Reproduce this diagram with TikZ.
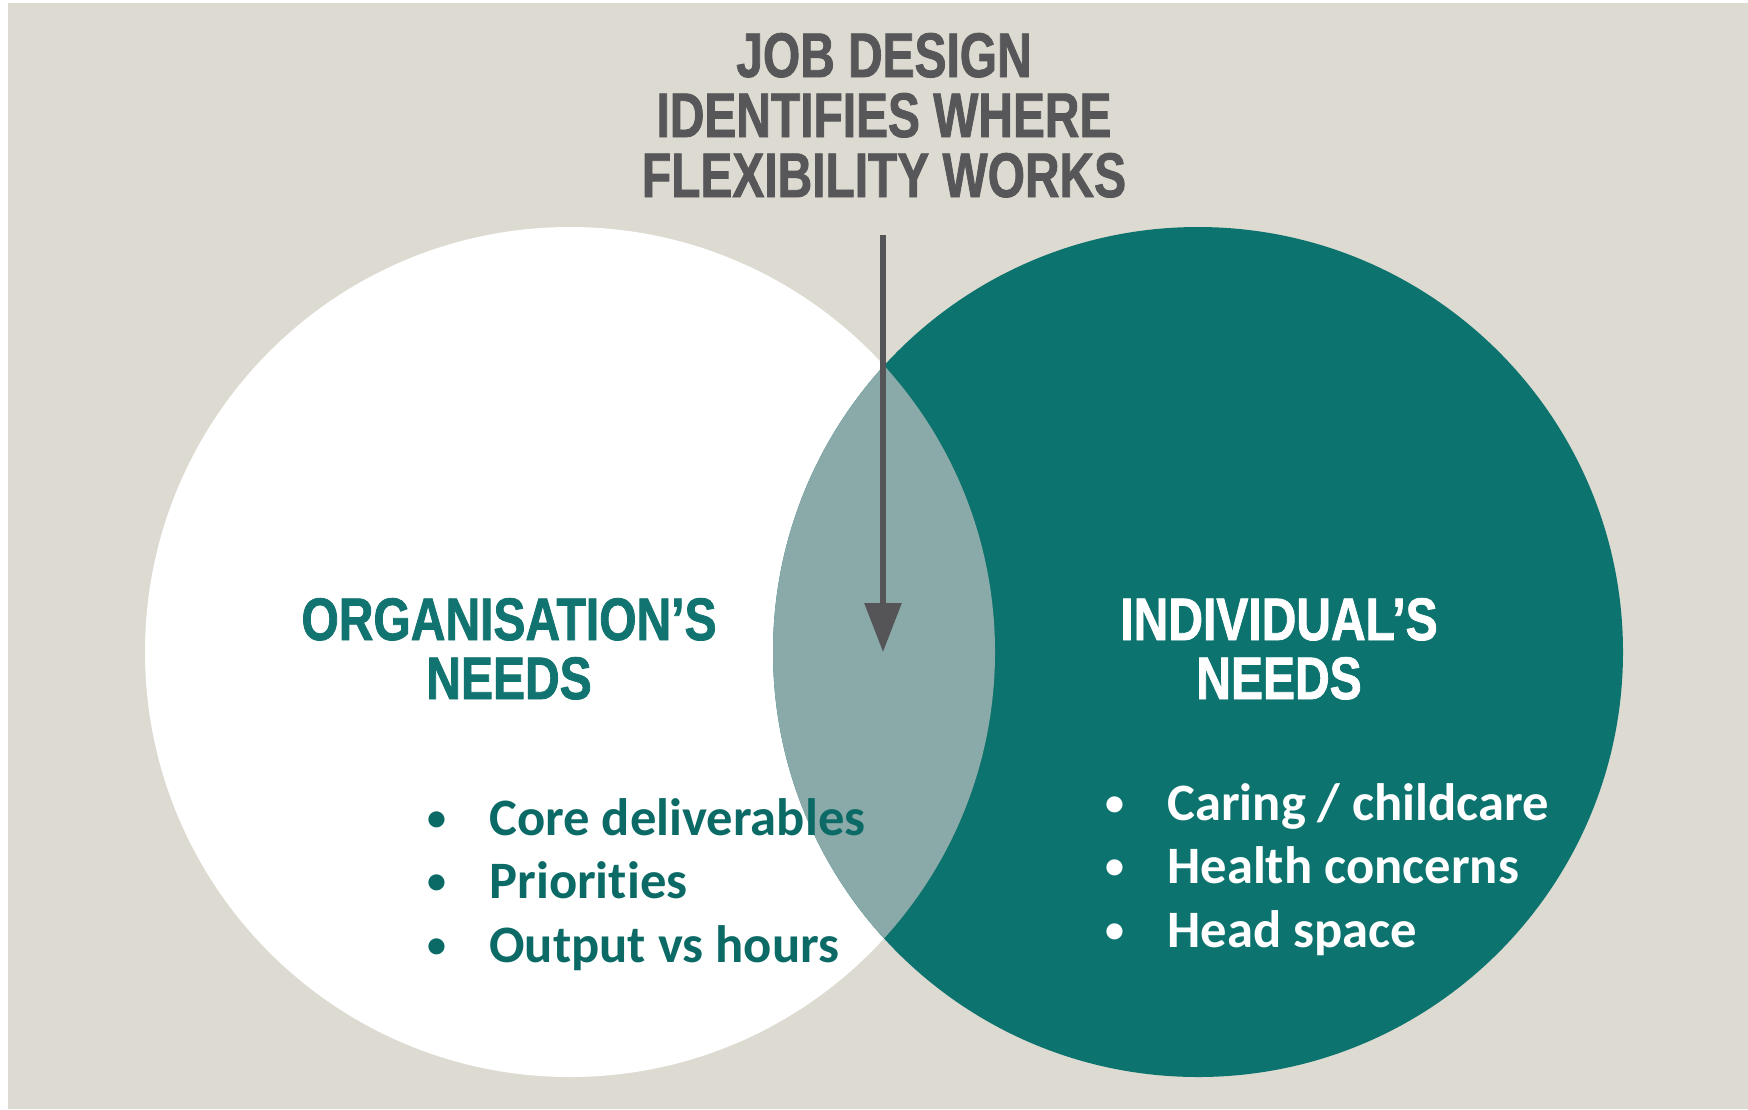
\documentclass[tikz,border=0pt]{standalone}
\usepackage{fontspec}
\usetikzlibrary{arrows.meta}
\newfontfamily\titlefont[FakeStretch=0.76,FakeBold=1.3]{Liberation Sans}
\newfontfamily\headfont[FakeStretch=0.80,FakeBold=1.3]{Liberation Sans}
\newfontfamily\listfont[Ligatures=NoCommon]{Carlito}
\definecolor{bgbeige}{HTML}{DDDBD1}
\definecolor{tealmain}{HTML}{0D736F}
\definecolor{overlapgray}{HTML}{8AA9A9}
\definecolor{titlegray}{HTML}{57575A}
\definecolor{arrowgray}{HTML}{555558}
\definecolor{tealtext}{HTML}{0B6A66}
\definecolor{tealhead}{HTML}{127470}
\newcommand{\bulletmark}{\makebox[52pt][c]{\raisebox{2.5pt}{\fontsize{19}{20}\selectfont •}}}
\begin{document}
\begin{tikzpicture}[x=0.5pt,y=-0.5pt,
  venn/.style={circle, inner sep=0pt, minimum size=425pt},
  titleline/.style={font=\titlefont\bfseries\fontsize{31.5}{30}\selectfont, text=titlegray, inner sep=0pt, anchor=base},
  headline/.style={font=\headfont\bfseries\fontsize{30}{29}\selectfont, inner sep=0pt, anchor=base},
  listitem/.style={font=\listfont\bfseries\fontsize{26.3}{30}\selectfont, inner sep=0pt, anchor=base west},
  pointer/.style={draw=arrowgray, line width=3pt, -{Triangle[width=18pt,length=24.5pt]}, arrowgray}
]
\useasboundingbox (0,0) rectangle (1748,1109);
\fill[white] (0,0) rectangle (1748,1109);
\fill[bgbeige] (8,3) rectangle (1748,1109);

% circles
\node[venn, fill=white] (org) at (570,652) {};
\node[venn, fill=tealmain] (ind) at (1198,652) {};
\begin{scope}
  \clip (org.center) circle[radius=212.5pt];
  \fill[overlapgray] (ind.center) circle[radius=212.5pt];
\end{scope}

% title
\node[titleline] (title1) at (884,77) {JOB DESIGN};
\node[titleline] (title2) at (884,137) {IDENTIFIES WHERE};
\node[titleline] (title3) at (884,197) {FLEXIBILITY WORKS};

% headings
\node[headline, text=tealhead] (orghead1) at (509,640) {ORGANISATION’S};
\node[headline, text=tealhead] (orghead2) at (509,699) {NEEDS};
\node[headline, text=white] (indhead1) at (1279,640) {INDIVIDUAL’S};
\node[headline, text=white] (indhead2) at (1279,699) {NEEDS};

% lists
\node[listitem, text=tealtext] (org1) at (385,835) {\bulletmark Core deliverables};
\node[listitem, text=tealtext] (org2) at (385,898) {\bulletmark Priorities};
\node[listitem, text=tealtext] (org3) at (385,962) {\bulletmark Output vs hours};
\node[listitem, text=white] (ind1) at (1063,820) {\bulletmark Caring / childcare};
\node[listitem, text=white] (ind2) at (1063,883) {\bulletmark Health concerns};
\node[listitem, text=white] (ind3) at (1063,947) {\bulletmark Head space};

% arrow
\coordinate (arrowstart) at (883,235);
\coordinate (arrowtip) at (883,652);
\draw[pointer] (arrowstart) -- (arrowtip);
\end{tikzpicture}
\end{document}
